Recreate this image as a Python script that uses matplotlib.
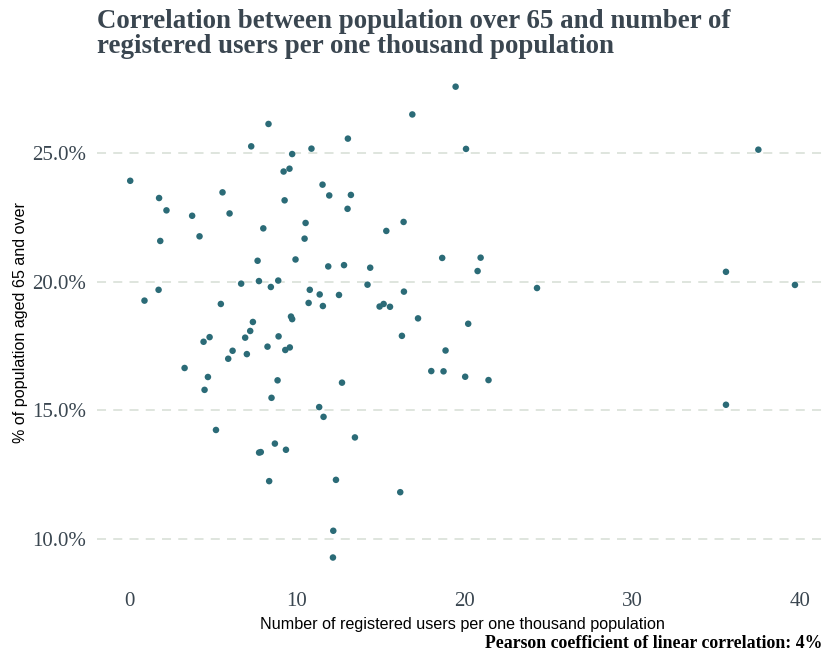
import matplotlib
matplotlib.use("Agg")
import matplotlib.pyplot as plt
from matplotlib import font_manager
from matplotlib.ticker import FuncFormatter

# registered users per 1000 population vs share of population aged 65+
users_per_1000 = [
    0.06, 0.91, 1.78, 1.85, 1.75, 2.22, 3.30, 3.75, 4.19, 4.43,
    4.49, 4.69, 4.79, 5.17, 5.46, 5.56, 5.90, 5.98, 6.16, 6.67,
    6.91, 7.01, 7.21, 7.27, 7.37, 7.65, 7.73, 7.74, 7.84, 7.99,
    8.24, 8.30, 8.34, 8.44, 8.48, 8.68, 8.84, 8.90, 8.88, 9.20,
    9.26, 9.30, 9.34, 9.55, 9.57, 9.64, 9.71, 9.71, 9.91, 10.45,
    10.51, 10.69, 10.76, 10.86, 11.32, 11.35, 11.52, 11.58, 11.54, 11.86,
    11.92, 12.16, 12.14, 12.32, 12.50, 12.68, 12.80, 13.01, 13.03, 13.21,
    13.45, 14.20, 14.36, 14.92, 15.16, 15.54, 15.32, 16.15, 16.25, 16.35,
    16.37, 16.87, 17.21, 18.00, 18.73, 18.85, 18.65, 19.45, 20.02, 20.07,
    20.20, 20.76, 20.94, 21.41, 24.30, 35.56, 35.56, 37.49, 39.67,
]
pct_over_65 = [
    23.92, 19.26, 23.25, 21.58, 19.68, 22.77, 16.64, 22.56, 21.76, 17.66,
    15.79, 16.29, 17.84, 14.23, 19.13, 23.47, 17.00, 22.65, 17.31, 19.92,
    17.82, 17.18, 18.08, 25.26, 18.43, 20.81, 20.02, 13.35, 13.37, 22.07,
    17.47, 26.13, 12.24, 19.79, 15.48, 13.70, 16.16, 17.87, 20.04, 24.28,
    23.16, 17.34, 13.46, 24.39, 17.44, 18.64, 18.54, 24.96, 20.86, 21.67,
    22.28, 19.17, 19.68, 25.17, 15.12, 19.50, 23.77, 14.74, 19.05, 20.59,
    23.35, 10.31, 9.27, 12.29, 19.48, 16.07, 20.64, 22.83, 25.56, 23.37,
    13.94, 19.88, 20.54, 19.03, 19.13, 19.02, 21.97, 11.81, 17.89, 22.32,
    19.61, 26.50, 18.57, 16.52, 16.51, 17.32, 20.92, 27.58, 16.30, 25.16,
    18.36, 20.41, 20.93, 16.17, 19.75, 20.38, 15.21, 25.13, 19.87,
]
x_ticks = [0, 10, 20, 30, 40]
y_ticks = [10, 15, 20, 25]

title = ("Correlation between population over 65 and number of\n"
         "registered users per one thousand population")
x_title = "Number of registered users per one thousand population"
y_title = "% of population aged 65 and over"
caption = "Pearson coefficient of linear correlation: 4%"

serif = ["Liberation Serif", "DejaVu Serif"]
text_grey = "#3a4650"

# axis titles are in a condensed sans; use one if it is installed
names = {f.name for f in font_manager.fontManager.ttflist}
if "Liberation Sans Narrow" in names:
    narrow, narrow_size = ["Liberation Sans Narrow"], 13
else:
    narrow, narrow_size = ["Liberation Sans", "DejaVu Sans"], 11.6

fig = plt.figure(figsize=(8.29, 6.53), dpi=100)
ax = fig.add_axes([0.117, 0.110, 0.882, 0.7935])

ax.scatter(users_per_1000, pct_over_65, s=22, color="#2b6b77",
           edgecolors="none", zorder=3)

ax.set_xlim(-1.92, 41.65)
ax.set_ylim(8.35, 28.5)
ax.set_xticks(x_ticks)
ax.set_yticks(y_ticks)
ax.yaxis.set_major_formatter(FuncFormatter(lambda v, _: f"{v:.1f}%"))

ax.grid(axis="y", color="#dce3db", linestyle=(0, (5, 4)), linewidth=1.3)
ax.grid(axis="x", visible=False)
for s in ax.spines.values():
    s.set_visible(False)
ax.tick_params(length=0, pad=8, labelsize=15, labelcolor=text_grey)
for lab in ax.get_xticklabels() + ax.get_yticklabels():
    lab.set_family(serif)

ax.set_xlabel(x_title, family=narrow, fontsize=narrow_size, color="black",
              labelpad=4)
ax.set_ylabel(y_title, family=narrow, fontsize=narrow_size, color="black",
              labelpad=3)

fig.text(97 / 829, 1 - 9 / 653, title, family=serif, fontsize=19.4,
         color=text_grey, va="top", ha="left", linespacing=1.02,
         fontweight="bold")
fig.text(822 / 829, 1 - 643 / 653, caption, family=serif, fontsize=12.8,
         fontweight="bold", color="black", ha="right", va="center")

fig.savefig("out.png", dpi=100)
